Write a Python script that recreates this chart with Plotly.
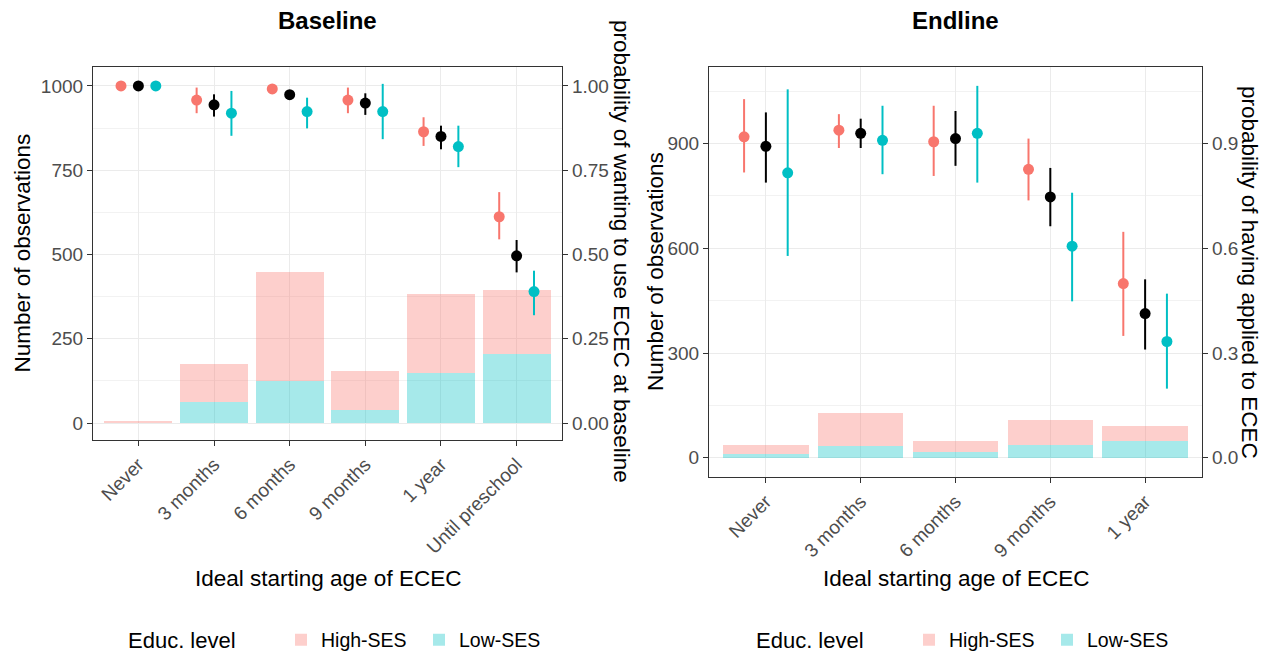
import plotly.graph_objects as go

# ---------------- data ----------------
base_cats = ["Never", "3 months", "6 months", "9 months", "1 year", "Until preschool"]
end_cats = ["Never", "3 months", "6 months", "9 months", "1 year"]

# counts (stacked bars)
base_n_high = [6, 111, 322, 116, 233, 190]
base_n_low = [0, 64, 126, 39, 150, 205]
end_n_high = [27, 95, 32, 71, 42]
end_n_low = [11, 33, 16, 38, 48]

# probabilities with CI: High-SES, overall, Low-SES
base_p_high = [1.000, 0.958, 0.991, 0.958, 0.864, 0.612]
base_lo_high = [1.000, 0.919, 0.985, 0.919, 0.822, 0.545]
base_hi_high = [1.000, 0.995, 0.997, 0.995, 0.907, 0.685]
base_p_all = [1.000, 0.944, 0.974, 0.949, 0.850, 0.496]
base_lo_all = [1.000, 0.909, 0.962, 0.914, 0.812, 0.447]
base_hi_all = [1.000, 0.975, 0.986, 0.978, 0.882, 0.543]
base_p_low = [1.000, 0.919, 0.924, 0.924, 0.820, 0.390]
base_lo_low = [1.000, 0.852, 0.874, 0.842, 0.759, 0.320]
base_hi_low = [1.000, 0.985, 0.965, 1.006, 0.882, 0.452]

end_p_high = [0.919, 0.938, 0.905, 0.826, 0.499]
end_lo_high = [0.817, 0.887, 0.807, 0.737, 0.349]
end_hi_high = [1.027, 0.984, 1.008, 0.914, 0.647]
end_p_all = [0.892, 0.929, 0.914, 0.747, 0.413]
end_lo_all = [0.788, 0.887, 0.836, 0.663, 0.310]
end_hi_all = [0.989, 0.971, 0.993, 0.830, 0.511]
end_p_low = [0.816, 0.909, 0.929, 0.606, 0.333]
end_lo_low = [0.578, 0.812, 0.788, 0.448, 0.198]
end_hi_low = [1.055, 1.008, 1.065, 0.759, 0.470]

groups = ["High-SES", "Low-SES"]
# --------------------------------------

PINK = "#F8766D"
CYAN = "#00BFC4"
PINK_A = "rgba(248,118,109,0.35)"
CYAN_A = "rgba(0,191,196,0.35)"
FONT = "Liberation Sans, Arial, sans-serif"
W, H = 1276, 659
OFF = 8  # page body margin

fig = go.Figure()

DODGE = 0.23


def add_panel(cats, n_high, n_low, pts, xa, ya, ya2, legend):
    xs = list(range(1, len(cats) + 1))
    fig.add_trace(go.Bar(x=xs, y=n_low, width=0.9, marker=dict(color=CYAN_A, line=dict(width=0)),
                         name=groups[1], xaxis=xa, yaxis=ya, legend=legend, legendrank=2,
                         hoverinfo="skip"))
    fig.add_trace(go.Bar(x=xs, y=n_high, width=0.9, marker=dict(color=PINK_A, line=dict(width=0)),
                         name=groups[0], xaxis=xa, yaxis=ya, legend=legend, legendrank=1,
                         hoverinfo="skip"))
    for (p, lo, hi, col, off) in pts:
        fig.add_trace(go.Scatter(
            x=[x + off for x in xs], y=p, mode="markers",
            marker=dict(color=col, size=11, line=dict(width=0)),
            error_y=dict(type="data", symmetric=False,
                         array=[h - v for h, v in zip(hi, p)],
                         arrayminus=[v - l for v, l in zip(p, lo)],
                         color=col, thickness=2, width=0),
            xaxis=xa, yaxis=ya2, showlegend=False, hoverinfo="skip"))


add_panel(base_cats, base_n_high, base_n_low,
          [(base_p_high, base_lo_high, base_hi_high, PINK, -DODGE),
           (base_p_all, base_lo_all, base_hi_all, "black", 0),
           (base_p_low, base_lo_low, base_hi_low, CYAN, DODGE)],
          "x", "y", "y2", "legend")
add_panel(end_cats, end_n_high, end_n_low,
          [(end_p_high, end_lo_high, end_hi_high, PINK, -DODGE),
           (end_p_all, end_lo_all, end_hi_all, "black", 0),
           (end_p_low, end_lo_low, end_hi_low, CYAN, DODGE)],
          "x2", "y3", "y4", "legend2")


def px_x(p):
    return (p - OFF) / W


def px_y(p):
    return 1 - (p - OFF) / H


TICK = 19
tickfont = dict(family=FONT, size=TICK, color="#4D4D4D")
common_x = dict(showline=True, mirror=True, linecolor="#333333", linewidth=1.2,
                ticks="outside", ticklen=5, tickcolor="#333333", tickwidth=1.1,
                showgrid=True, gridcolor="#EBEBEB", gridwidth=1, zeroline=False,
                tickangle=-45, tickfont=tickfont)
common_y = dict(showline=True, mirror=True, linecolor="#333333", linewidth=1.2,
                ticks="outside", ticklen=5, tickcolor="#333333", tickwidth=1.1,
                showgrid=True, gridcolor="#EBEBEB", gridwidth=1, zeroline=False,
                tickfont=tickfont)

bx0, bx1, by0, by1 = 93, 562, 67, 440
ex0, ex1, ey0, ey1 = 709, 1202, 67, 477

leg_common = dict(orientation="h", xanchor="left", yanchor="middle",
                  font=dict(size=19.5, family=FONT, color="black"), bgcolor="rgba(0,0,0,0)",
                  itemwidth=30, traceorder="normal", entrywidth=93, entrywidthmode="pixels")

fig.update_layout(
    width=W, height=H, margin=dict(l=0, r=0, t=0, b=0),
    plot_bgcolor="white", paper_bgcolor="white", barmode="stack", bargap=0,
    font=dict(family=FONT, color="black"),
    xaxis=dict(common_x, domain=[px_x(bx0), px_x(bx1)], anchor="y", range=[0.4, 6.6],
               tickmode="array", tickvals=list(range(1, 7)), ticktext=base_cats),
    yaxis=dict(common_y, domain=[px_y(by1), px_y(by0)], anchor="x", range=[-50, 1056],
               tickmode="array", tickvals=[0, 250, 500, 750, 1000],
               minor=dict(showgrid=True, gridcolor="#F2F2F2", gridwidth=0.8,
                          tickvals=[125, 375, 625, 875], ticks="")),
    yaxis2=dict(common_y, overlaying="y", side="right", anchor="x", range=[-0.050, 1.056],
                tickmode="array", tickvals=[0, 0.25, 0.5, 0.75, 1.0],
                ticktext=["0.00", "0.25", "0.50", "0.75", "1.00"], showgrid=False),
    xaxis2=dict(common_x, domain=[px_x(ex0), px_x(ex1)], anchor="y3", range=[0.4, 5.6],
                tickmode="array", tickvals=list(range(1, 6)), ticktext=end_cats),
    yaxis3=dict(common_y, domain=[px_y(ey1), px_y(ey0)], anchor="x2", range=[-55, 1119],
                tickmode="array", tickvals=[0, 300, 600, 900],
                minor=dict(showgrid=True, gridcolor="#F2F2F2", gridwidth=0.8,
                           tickvals=[150, 450, 750, 1050], ticks="")),
    yaxis4=dict(common_y, overlaying="y3", side="right", anchor="x2", range=[-0.055, 1.119],
                tickmode="array", tickvals=[0, 0.3, 0.6, 0.9],
                ticktext=["0.0", "0.3", "0.6", "0.9"], showgrid=False),
    legend=dict(leg_common, x=px_x(281), y=px_y(640)),
    legend2=dict(leg_common, x=px_x(909), y=px_y(640)),
)

ann = []


def add_text(text, x, y, size, angle=0, bold=False, anchor="center"):
    ann.append(dict(text=("<b>%s</b>" % text) if bold else text, x=px_x(x), y=px_y(y),
                    xref="paper", yref="paper", showarrow=False, textangle=angle,
                    xanchor=anchor, yanchor="middle",
                    font=dict(family=FONT, size=size, color="black")))


add_text("Baseline", (bx0 + bx1) / 2, 21, 24, bold=True)
add_text("Endline", (ex0 + ex1) / 2, 21, 24, bold=True)
add_text("Number of observations", 22, (by0 + by1) / 2, 22.5, angle=-90)
add_text("Number of observations", 655, (ey0 + ey1) / 2, 22.5, angle=-90)
add_text("probability of wanting to use ECEC at baseline", 622, 251, 22.5, angle=90)
add_text("probability of having applied to ECEC", 1250, (ey0 + ey1) / 2, 22.5, angle=90)
add_text("Ideal starting age of ECEC", (bx0 + bx1) / 2, 578, 22.5)
add_text("Ideal starting age of ECEC", (ex0 + ex1) / 2, 578, 22.5)
add_text("Educ. level", 126, 640, 22, anchor="left")
add_text("Educ. level", 754, 640, 22, anchor="left")
fig.update_layout(annotations=ann)

fig.write_html("out.html")
